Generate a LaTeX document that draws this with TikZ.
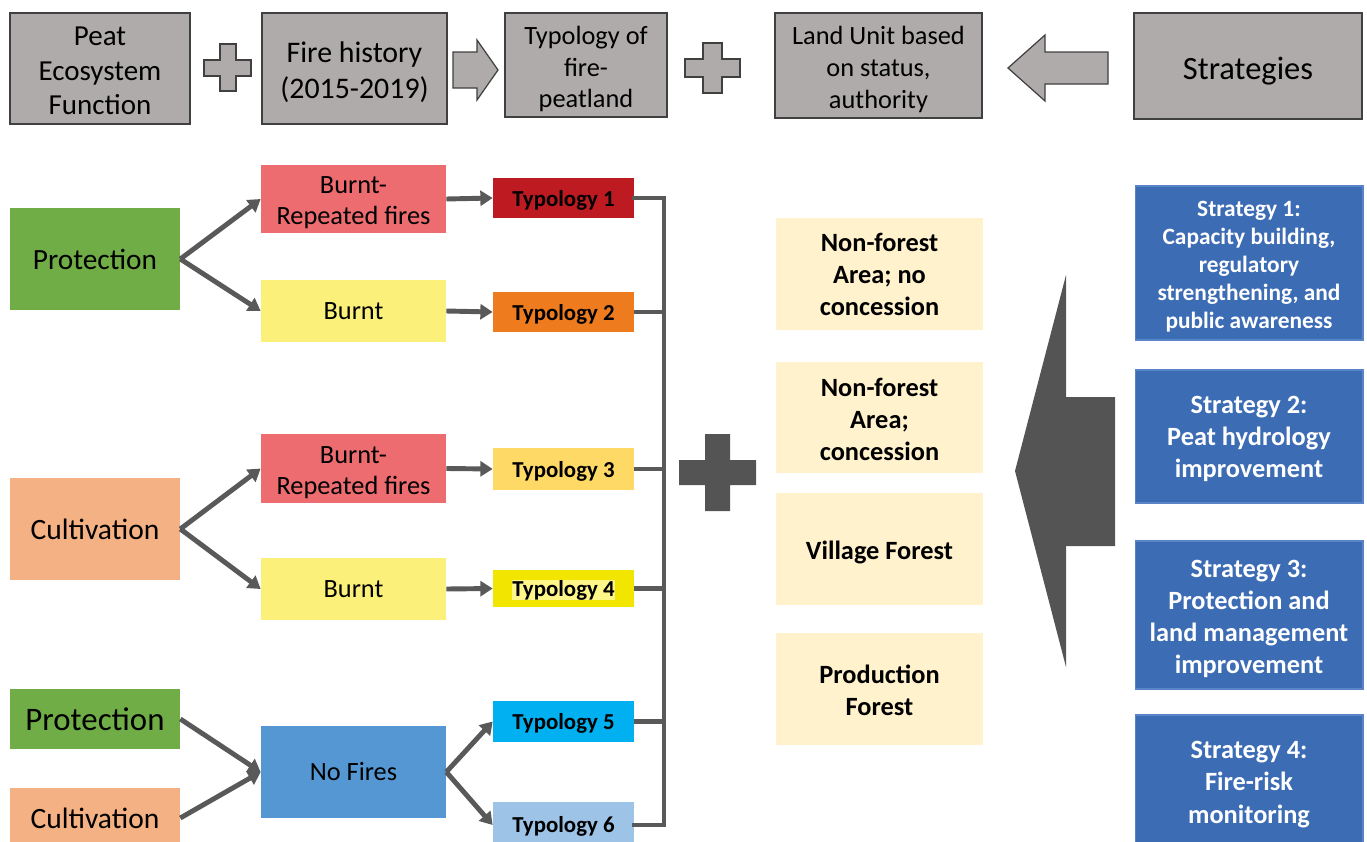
\documentclass[tikz,border=0pt]{standalone}
\usepackage{fontspec}
\setmainfont{Carlito}
\usetikzlibrary{arrows.meta}
\definecolor{gfill}{HTML}{AFABAB}
\definecolor{gline}{HTML}{404040}
\definecolor{cgreen}{HTML}{70AD47}
\definecolor{corange}{HTML}{F4B183}
\definecolor{cred}{HTML}{ED6C70}
\definecolor{cyellow}{HTML}{FBF17A}
\definecolor{tone}{HTML}{BE1A22}
\definecolor{ttwo}{HTML}{EE7C1E}
\definecolor{tthree}{HTML}{FFD966}
\definecolor{tfour}{HTML}{F2E600}
\definecolor{tfourhl}{HTML}{FFF68A}
\definecolor{tfive}{HTML}{00B0F0}
\definecolor{tsix}{HTML}{9DC3E6}
\definecolor{cnofire}{HTML}{5597D3}
\definecolor{cland}{HTML}{FFF2CC}
\definecolor{cstrat}{HTML}{3C6CB4}
\definecolor{cstratline}{HTML}{5A84C8}
\definecolor{cline}{HTML}{595959}
\definecolor{cbig}{HTML}{545454}
\begin{document}
\begin{tikzpicture}[x=0.02cm,y=-0.02cm,
  box/.style={inner sep=0pt, align=center, text=black},
  txt/.style={inner sep=0pt, align=center, text=black},
  wtxt/.style={inner sep=0pt, align=center, text=white},
  gbox/.style={box, fill=gfill, draw=gline, line width=0.7pt},
  gshape/.style={fill=gfill, draw=gline, line width=0.7pt},
  cbox/.style={box, minimum width=3.4cm},
  mbox/.style={box, minimum width=3.7cm, font=\fontsize{15}{17.6}\selectfont},
  mfont/.style={font=\fontsize{15}{17.6}\selectfont},
  tbox/.style={box, minimum width=2.82cm},
  tfont/.style={font=\fontsize{13}{15.6}\selectfont\bfseries},
  lbox/.style={box, fill=cland, minimum width=4.14cm, minimum height=2.24cm},
  lfont/.style={font=\fontsize{15}{18.1}\selectfont\bfseries},
  sbox/.style={box, fill=cstrat, draw=cstratline, line width=0.6pt, minimum width=4.56cm},
  sfont/.style={font=\fontsize{15}{18.3}\selectfont\bfseries},
  arr/.style={draw=cline, line width=2.8pt, -{Triangle[length=7pt,width=8.5pt]}},
  bus/.style={draw=cline, line width=2.3pt}
]
\useasboundingbox (0,0) rectangle (1367,842);

% ---- top row ----
\node[gbox, minimum width=3.6cm, minimum height=2.22cm] (peat) at (100,68.5) {};
\node[txt, font=\fontsize{16.5}{19.8}\selectfont] (peat-t) at ([yshift=-0.05cm]peat.center) {Peat\\Ecosystem\\Function};
\node[gbox, minimum width=3.7cm, minimum height=2.22cm] (fire) at (354.5,68.5) {};
\node[txt, font=\fontsize{17}{20.4}\selectfont] (fire-t) at ([yshift=-0.08cm]fire.center) {Fire history\\(2015-2019)};
\node[gbox, minimum width=3.24cm, minimum height=2.08cm] (typo) at (586,65) {};
\node[txt, font=\fontsize{15}{17.9}\selectfont] (typo-t) at ([yshift=-0.08cm]typo.center) {Typology of\\fire-\\peatland};
\node[gbox, minimum width=4.14cm, minimum height=2.1cm] (land) at (878.5,65.5) {};
\node[txt, font=\fontsize{15}{18.4}\selectfont] (land-t) at ([yshift=-0.08cm]land.center) {Land Unit based\\on status,\\authority};
\node[gbox, minimum width=4.56cm, minimum height=2.12cm] (strat) at (1248,66) {};
\node[txt, font=\fontsize{18.5}{22}\selectfont] (strat-t) at ([yshift=-0.1cm]strat.center) {Strategies};

% plus 1
\draw[gshape] (220,44) -- (236,44) -- (236,60) -- (251,60) -- (251,76) -- (236,76) -- (236,91) -- (220,91) -- (220,76) -- (204,76) -- (204,60) -- (220,60) -- cycle;
% plus 2
\draw[gshape] (703,43) -- (722,43) -- (722,59) -- (740,59) -- (740,77) -- (722,77) -- (722,93) -- (703,93) -- (703,77) -- (685,77) -- (685,59) -- (703,59) -- cycle;
% right block arrow
\draw[gshape] (453,52) -- (477,52) -- (477,40) -- (498,70) -- (477,100) -- (477,88) -- (453,88) -- cycle;
% left block arrow
\draw[gshape] (1108,52) -- (1045,52) -- (1045,35) -- (1008,68) -- (1045,101) -- (1045,84) -- (1108,84) -- cycle;

% ---- left flow ----
\node[cbox, fill=cgreen, minimum height=2.04cm, font=\fontsize{16.7}{20}\selectfont] (prot1) at (95,259) {Protection};
\node[mbox, fill=cred, minimum height=1.36cm] (brf1) at (353.5,199) {};
\node[txt, mfont] (brf1-t) at ([yshift=-0.08cm]brf1.center) {Burnt-\\Repeated fires};
\node[mbox, fill=cyellow, minimum height=1.24cm] (burnt1) at (353.5,311) {Burnt};
\node[tbox, fill=tone, minimum height=0.8cm] (t1) at (563.5,198) {};
\node[txt, tfont] (t1-t) at ([yshift=-0.04cm]t1.center) {Typology 1};
\node[tbox, fill=ttwo, minimum height=0.8cm] (t2) at (563.5,312) {};
\node[txt, tfont] (t2-t) at ([yshift=-0.04cm]t2.center) {Typology 2};

\node[cbox, fill=corange, minimum height=2.04cm, font=\fontsize{16.8}{20}\selectfont] (cult1) at (95,529) {Cultivation};
\node[mbox, fill=cred, minimum height=1.38cm] (brf2) at (353.5,468.5) {};
\node[txt, mfont] (brf2-t) at ([yshift=-0.09cm]brf2.center) {Burnt-\\Repeated fires};
\node[mbox, fill=cyellow, minimum height=1.24cm] (burnt2) at (353.5,589) {Burnt};
\node[tbox, fill=tthree, minimum height=0.84cm] (t3) at (563.5,469) {};
\node[txt, tfont] (t3-t) at ([yshift=-0.04cm]t3.center) {Typology 3};
\node[tbox, fill=tfour, minimum height=0.74cm] (t4) at (563.5,588.5) {};
\node[txt, tfont] (t4-t) at ([yshift=-0.03cm]t4.center) {{\fboxsep=0pt\colorbox{tfourhl}{Typology 4}}};

\node[cbox, fill=cgreen, minimum height=1.2cm, font=\fontsize{18.7}{22}\selectfont] (prot2) at (95,719) {Protection};
\node[cbox, fill=corange, minimum height=1.2cm, font=\fontsize{16.8}{20}\selectfont] (cult2) at (95,818) {Cultivation};
\node[mbox, fill=cnofire, minimum height=1.84cm] (nofire) at (353.5,772) {No Fires};
\node[tbox, fill=tfive, minimum height=0.82cm] (t5) at (563.5,721.5) {};
\node[txt, tfont] (t5-t) at ([yshift=-0.04cm]t5.center) {Typology 5};
\node[tbox, fill=tsix, minimum height=0.92cm] (t6) at (563.5,825) {};
\node[txt, tfont] (t6-t) at ([yshift=-0.02cm]t6.center) {Typology 6};

\draw[arr] (prot1.east) -- (brf1.west);
\draw[arr] (prot1.east) -- (burnt1.west);
\draw[arr] (brf1.east) -- (t1.west);
\draw[arr] (burnt1.east) -- (t2.west);
\draw[arr] (cult1.east) -- (brf2.west);
\draw[arr] (cult1.east) -- (burnt2.west);
\draw[arr] (brf2.east) -- (t3.west);
\draw[arr] (burnt2.east) -- (t4.west);
\draw[arr] (prot2.east) -- (nofire.west);
\draw[arr] (cult2.east) -- (nofire.west);
\draw[arr] (nofire.east) -- (t5.west);
\draw[arr] (nofire.east) -- (t6.west);

% bus
\coordinate (bustop) at (664,198);
\coordinate (busbot) at (664,825);
\draw[bus, line cap=rect] (t1.east) -- (bustop) -- (busbot) -- (t6.east);
\foreach \t in {t2,t3,t4,t5} \draw[bus] (\t.east) -- (bustop |- \t.east);

% big plus
\fill[cbig] (705,434) -- (730,434) -- (730,460) -- (756,460) -- (756,485) -- (730,485) -- (730,511) -- (705,511) -- (705,485) -- (679,485) -- (679,460) -- (705,460) -- cycle;

% land units
\node[lbox] (l1) at (879.5,274) {};
\node[txt, lfont] (l1-t) at ([yshift=-0.01cm]l1.center) {Non-forest\\Area; no\\concession};
\node[lbox] (l2) at (879.5,417.5) {};
\node[txt, lfont] (l2-t) at ([yshift=-0.04cm]l2.center) {Non-forest\\Area;\\concession};
\node[lbox] (l3) at (879.5,549) {};
\node[txt, lfont] (l3-t) at ([yshift=-0.06cm]l3.center) {Village Forest};
\node[lbox] (l4) at (879.5,689) {};
\node[txt, lfont] (l4-t) at ([yshift=-0.03cm]l4.center) {Production\\Forest};

% big arrow
\fill[cbig] (1015,471) -- (1066,275) -- (1066,397) -- (1115,397) -- (1115,546) -- (1066,546) -- (1066,667) -- cycle;

% strategies
\node[sbox, minimum height=3.08cm] (s1) at (1249,263) {};
\node[wtxt, font=\fontsize{13.3}{15.9}\selectfont\bfseries] (s1-t) at ([yshift=-0.08cm]s1.center) {Strategy 1:\\Capacity building,\\regulatory\\strengthening, and\\public awareness};
\node[sbox, minimum height=2.66cm] (s2) at (1249,436.5) {};
\node[wtxt, sfont] (s2-t) at ([yshift=-0.05cm]s2.center) {Strategy 2:\\Peat hydrology\\improvement};
\node[sbox, minimum height=2.96cm] (s3) at (1249,615) {};
\node[wtxt, sfont] (s3-t) at ([yshift=-0.08cm]s3.center) {Strategy 3:\\Protection and\\land management\\improvement};
\node[sbox, minimum height=2.68cm] (s4) at (1249,782) {};
\node[wtxt, sfont] (s4-t) at ([yshift=-0.05cm]s4.center) {Strategy 4:\\Fire-risk\\monitoring};
\end{tikzpicture}
\end{document}
